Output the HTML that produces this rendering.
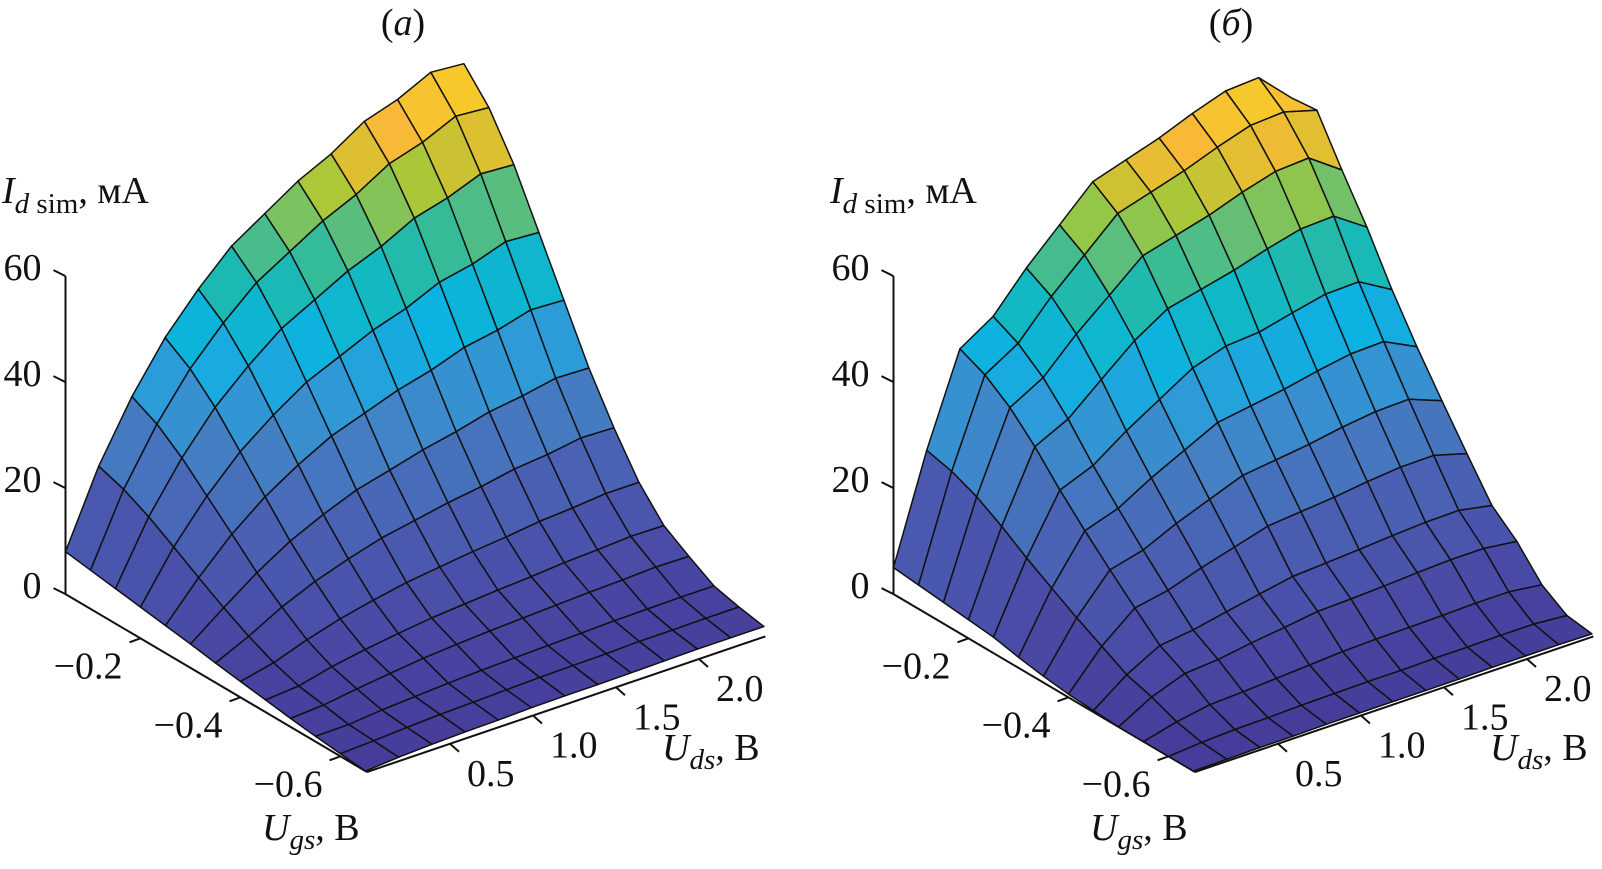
<!DOCTYPE html>
<html><head><meta charset="utf-8">
<style>
html,body{margin:0;padding:0;background:#fff;}
svg{display:block;font-family:"Liberation Serif","DejaVu Serif",serif;}
</style></head>
<body>
<svg id="fig" width="1602" height="869" viewBox="0 0 1602 869" xmlns="http://www.w3.org/2000/svg">
  <g id="panelA"></g>
  <g id="panelB" transform="translate(828,0)"></g>
</svg>
<script>
// ---- data ----
const udsGrid = [0,0.2,0.4,0.6,0.8,1.0,1.2,1.4,1.6,1.8,2.0,2.2,2.4];
const ugsGrid = [-0.05,-0.10,-0.15,-0.20,-0.25,-0.30,-0.35,-0.40,-0.45,-0.50,-0.55,-0.60,-0.65];
const zTicks = [0,20,40,60];
const ugsTicks = [-0.2,-0.4,-0.6];
const ugsTickLabels = ["\u22120.2","\u22120.4","\u22120.6"];
const udsTicks = [0.5,1.0,1.5,2.0];
const udsTickLabels = ["0.5","1.0","1.5","2.0"];
// I_d sim (mA), rows = Ugs (ugsGrid), columns = Uds (udsGrid)
const idsA = [
 [8,22,33,42,49,55,59,63,66,70,72,75,74.5],
 [7.3,20.4,30.6,38.9,45.4,50.9,54.6,58.3,61.1,64.8,66.7,69.5,69],
 [6.6,18,27,34.4,40.1,45,48.3,51.6,54.1,57.3,59,61.4,61],
 [5.9,15.1,22.6,28.8,33.6,37.7,40.4,43.2,45.2,48,49.3,51.4,51],
 [5.2,12.1,18.2,23.1,27,30.3,32.5,34.7,36.3,38.5,39.6,41.3,41],
 [4.5,9.2,13.7,17.5,20.4,22.9,24.5,26.2,27.5,29.1,30,31.2,31],
 [3.7,6.6,10,12.7,14.8,16.6,17.8,19,19.9,21.1,21.7,22.7,22.5],
 [3,4.4,6.6,8.4,9.8,11,11.8,12.6,13.2,14,14.4,15,15],
 [2.3,2.8,4.3,5.4,6.3,7.1,7.6,8.1,8.5,9,9.3,9.7,9.6],
 [1.6,2,2.9,3.7,4.4,4.9,5.3,5.6,5.9,6.2,6.4,6.7,6.6],
 [1,1.1,1.7,2.1,2.5,2.8,3,3.2,3.4,3.6,3.7,3.8,3.8],
 [0.5,0.8,1.2,1.5,1.7,1.9,2.1,2.2,2.3,2.5,2.5,2.6,2.6],
 [0,0.5,0.8,1,1.1,1.3,1.4,1.4,1.5,1.6,1.7,1.7,1.7]
];
const idsB = [
 [5,25,42,46,53,59,65,67,69,71.5,73.6,74,68],
 [4.5,23.8,39.9,43.7,50.4,56.1,61.8,63.7,65.6,67.9,69.9,70.3,68.5],
 [4,21.8,36.5,40,46.1,51.3,56.6,58.3,60,62.2,64,64.4,60],
 [3.5,19,31.9,35,40.3,45.5,49.4,50.9,52.4,54.3,55.9,56.2,52],
 [3,15.8,26.5,29,33.4,37.2,41,43,43.5,45,46.4,46.6,43],
 [2,12.9,21.6,23.7,27.3,30.4,33.5,34.5,35.5,36.8,37.9,38.1,35],
 [1.2,10.1,17,18.6,21.5,23.9,26.3,27.1,27.9,29,29.8,30,27.6],
 [0.6,7.5,12.6,13.8,15.9,17.7,19.5,20.1,20.7,21.5,22.1,22.2,20.4],
 [0.3,4.9,8.3,9.1,10.4,11.6,12.8,13.2,13.6,14.1,14.5,14.6,13.4],
 [0,3.5,5.8,6.3,7.3,8.1,9,9.2,9.5,9.9,10.2,10.2,9.4],
 [0,1.6,2.7,3,3.4,3.8,4.2,4.4,4.5,4.6,4.8,4.8,4],
 [0,0.5,0.8,0.9,1.1,1.2,1.3,1.3,1.4,1.4,1.5,1.5,1],
 [0,0.1,0.2,0.2,0.3,0.3,0.3,0.3,0.3,0.4,0.4,0.4,0.3]
];

// ---- projection ----
const NS = "http://www.w3.org/2000/svg";
const F0 = [367,772];
const UGS_MIN = -0.653, UGS_MAX = -0.05, UDS_MAX = 2.4;
const UV = [166,-56.5];
const GV = [-500,-295];
const ZS = 5.3;
const CMAX = 75;
function proj(uds, ugs, z){
  const d = ugs - UGS_MIN;
  return [F0[0] + uds*UV[0] + d*GV[0], F0[1] + uds*UV[1] + d*GV[1] - z*ZS];
}
const stops = [
 [0.00,[70,60,154]],[0.12,[74,78,168]],[0.25,[74,98,180]],[0.38,[68,128,196]],
 [0.48,[45,156,217]],[0.56,[12,178,226]],[0.64,[16,184,196]],[0.70,[43,186,160]],
 [0.76,[98,190,120]],[0.82,[163,200,58]],[0.87,[220,192,48]],[0.91,[248,184,56]],
 [0.96,[247,200,44]],[1.00,[253,226,30]]];
function cmap(z){
  let f = Math.max(0, Math.min(1, z/CMAX));
  for (let k=1;k<stops.length;k++){
    if (f <= stops[k][0]){
      const a=stops[k-1], b=stops[k], t=(f-a[0])/(b[0]-a[0]);
      const c=a[1].map((v,m)=>Math.round(v+(b[1][m]-v)*t));
      return "rgb("+c.join(",")+")";
    }
  }
  return "rgb(253,226,30)";
}
function mk(tag, attrs, parent){
  const el = document.createElementNS(NS, tag);
  for (const k in attrs) el.setAttribute(k, attrs[k]);
  parent.appendChild(el);
  return el;
}
function line(p, q, parent, name){
  const el = mk("line",{x1:p[0],y1:p[1],x2:q[0],y2:q[1],stroke:"#111","stroke-width":2},parent);
  
  
  return el;
}
function text(x, y, str, parent, name, anchor){
  const el = mk("text",{x:x,y:y,"font-size":38,fill:"#111","text-anchor":anchor||"start"},parent);
  el.textContent = str;
  
  
  return el;
}

function drawPanel(g, ids, title){
  const zBase = proj(0, UGS_MAX, 0);
  line(zBase, proj(0, UGS_MAX, 60), g, "z-axis-line");
  line(proj(0, UGS_MAX, 0), proj(0, UGS_MIN, 0), g, "ugs-axis-line");
  line(proj(0, UGS_MIN, 0), proj(UDS_MAX, UGS_MIN, 0), g, "uds-axis-line");
  zTicks.forEach((v)=>{
    const p = proj(0, UGS_MAX, v);
    line(p, [p[0]-12, p[1]-6], g, "z-tick");
    text(p[0]-24, p[1]+4, String(v), g, "z-tick-label", "end");
  });
  ugsTicks.forEach((v,k)=>{
    const p = proj(0, v, 0);
    line(p, [p[0]-11, p[1]+4], g, "ugs-tick");
    text(p[0]-18, p[1]+40, ugsTickLabels[k], g, "ugs-tick-label", "end");
  });
  udsTicks.forEach((v,k)=>{
    const p = proj(v, UGS_MIN, 0);
    line(p, [p[0]+9, p[1]+8], g, "uds-tick");
    text(p[0]+17, p[1]+42, udsTickLabels[k], g, "uds-tick-label", "start");
  });
  const surf = mk("g",{},g);
  
  
  const nj = ugsGrid.length, ni = udsGrid.length;
  for (let j=0;j<nj-1;j++){
    for (let i=ni-2;i>=0;i--){
      const pts = [[i,j],[i+1,j],[i+1,j+1],[i,j+1]].map(([a,b])=>proj(udsGrid[a], ugsGrid[b], ids[b][a]));
      const zavg = (ids[j][i]+ids[j][i+1]+ids[j+1][i]+ids[j+1][i+1])/4;
      const poly = mk("polygon",{points:pts.map(p=>p[0].toFixed(1)+","+p[1].toFixed(1)).join(" "),
        fill:cmap(zavg),stroke:"#111","stroke-width":1.5,"stroke-linejoin":"round"},surf);
      
      
    }
  }
  const t = mk("text",{x:403,y:35,"font-size":38,fill:"#111","text-anchor":"middle"},g);
  t.innerHTML = '(<tspan font-style="italic">'+title+'</tspan>)';
  
  
  const zt = mk("text",{x:2,y:203,"font-size":38,fill:"#111"},g);
  zt.innerHTML = '<tspan font-style="italic">I</tspan><tspan font-size="29" dy="10" font-style="italic">d</tspan><tspan font-size="29"> sim</tspan><tspan dy="-10">, мА</tspan>';
  
  
  const gt = mk("text",{x:262,y:840,"font-size":38,fill:"#111"},g);
  gt.innerHTML = '<tspan font-style="italic">U</tspan><tspan font-size="29" dy="9" font-style="italic">gs</tspan><tspan dy="-9">, В</tspan>';
  
  
  const dt = mk("text",{x:662,y:760,"font-size":38,fill:"#111"},g);
  dt.innerHTML = '<tspan font-style="italic">U</tspan><tspan font-size="29" dy="9" font-style="italic">ds</tspan><tspan dy="-9">, В</tspan>';
  
  
}
drawPanel(document.getElementById("panelA"), idsA, "а");
drawPanel(document.getElementById("panelB"), idsB, "б");
</script>
</body></html>
